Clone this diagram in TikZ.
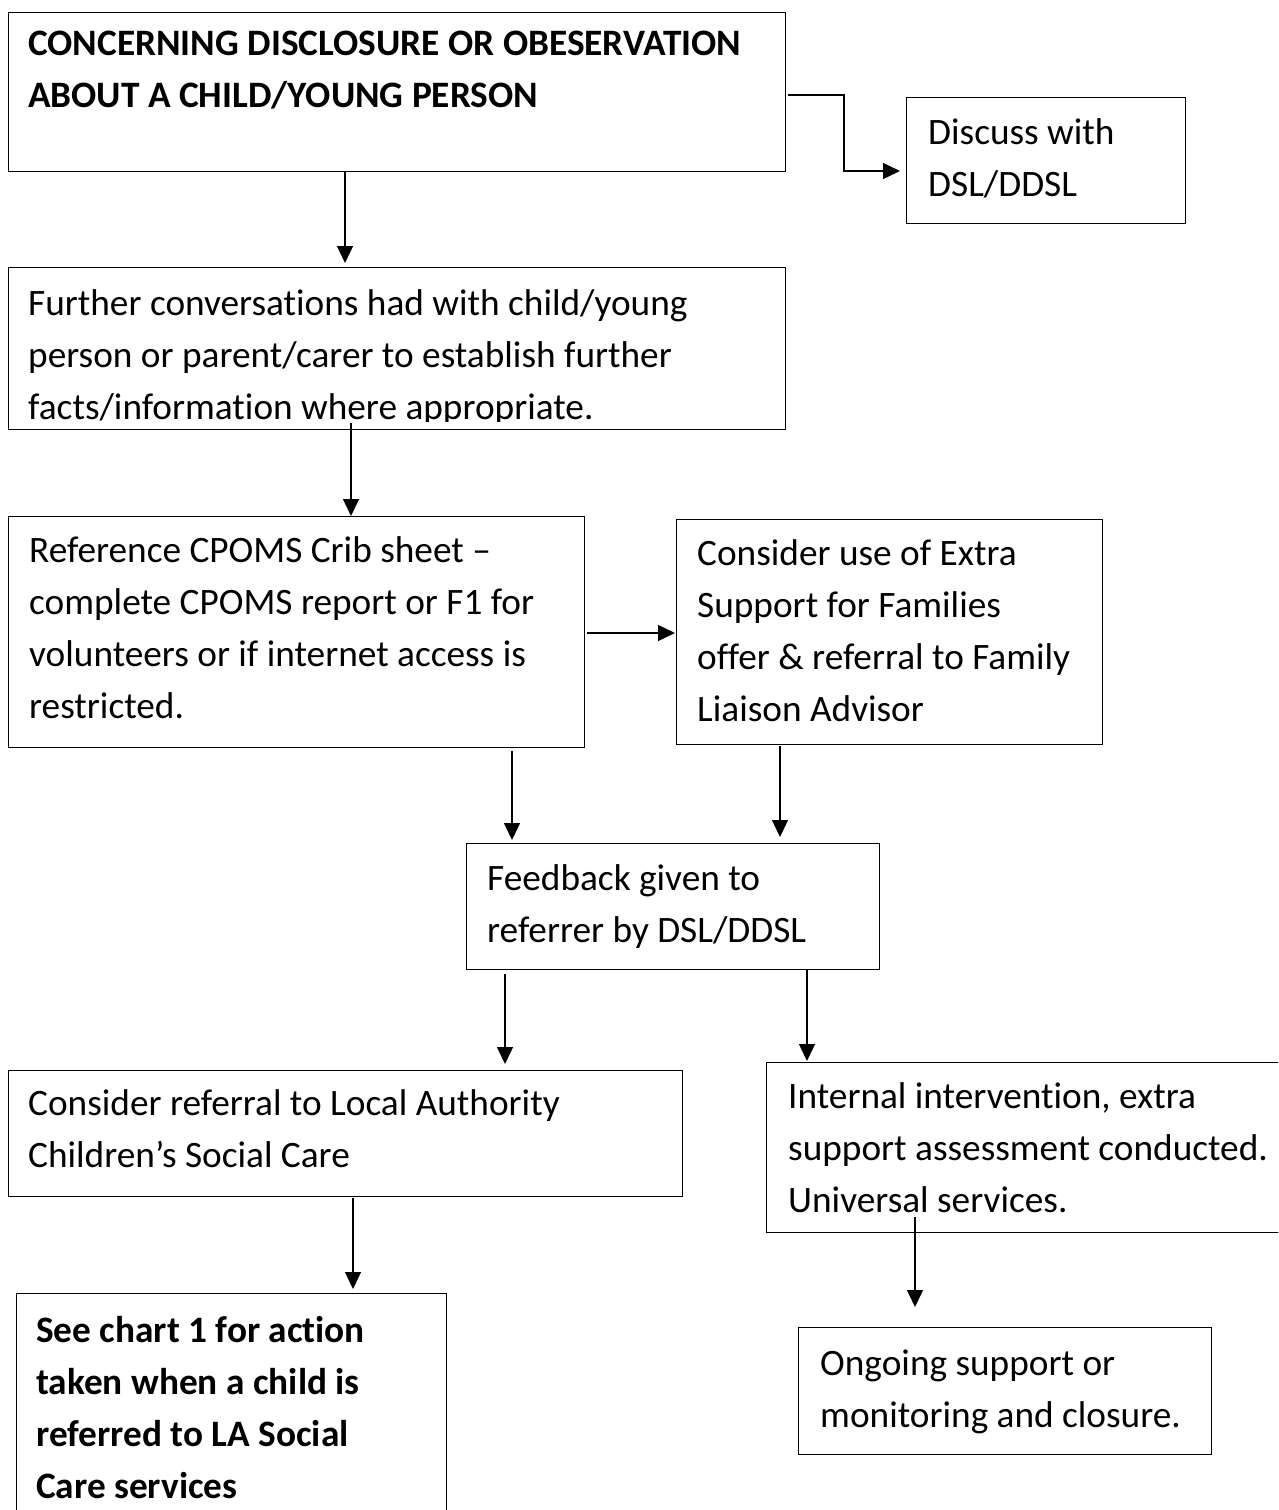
\documentclass[tikz,border=0pt]{standalone}
\usepackage{fontspec}
\setmainfont{Carlito}[Ligatures=NoCommon]
\usetikzlibrary{arrows.meta}
\begin{document}
\begin{tikzpicture}[x=1pt,y=-1pt,
  box/.style={draw, line width=1.3pt, inner sep=0pt, anchor=north west},
  txt/.style={anchor=north west, inner sep=0pt, align=left,
    font=\fontsize{37.3}{52}\selectfont},
  btxt/.style={txt, font=\fontsize{37.3}{52}\selectfont\bfseries},
  arr/.style={-{Triangle[length=17pt,width=16pt]}, line width=1.3pt}]
\clip (0,0) rectangle (1278,1510);
\fill[white] (0,0) rectangle (1278,1510);
% boxes
\node[box, minimum width=777pt, minimum height=159pt] (b1) at (8,12) {};
\node[box, minimum width=279pt, minimum height=126pt] (bd) at (906,97) {};
\node[box, minimum width=777pt, minimum height=162pt] (b2) at (8,267) {};
\node[box, minimum width=576pt, minimum height=231pt] (b3) at (8,516) {};
\node[box, minimum width=426pt, minimum height=225pt] (b4) at (676,519) {};
\node[box, minimum width=413pt, minimum height=126pt] (b5) at (466,843) {};
\node[box, minimum width=674pt, minimum height=126pt] (b6) at (8,1070) {};
\node[box, minimum width=540pt, minimum height=170pt] (b7) at (766,1062) {};
\node[box, minimum width=430pt, minimum height=240pt] (b8) at (16,1293) {};
\node[box, minimum width=413pt, minimum height=127pt] (b9) at (798,1327) {};
% texts (top = first baseline - 36.4)
\node[btxt] (t1) at (28,18.6) {\strut CONCERNING DISCLOSURE OR OBESERVATION\\\strut ABOUT A CHILD/YOUNG PERSON};
\node[txt] (td) at (928,107.6) {\strut Discuss with\\\strut DSL/DDSL};
\begin{scope}
\clip (0,267) rectangle (1278,421);
\node[txt] (t2) at (28,278.6) {\strut Further conversations had with child/young\\\strut person or parent/carer to establish further\\\strut facts/information where appropriate.};
\end{scope}
\node[txt] (t3) at (29,525.6) {\strut Reference CPOMS Crib sheet –\\\strut complete CPOMS report or F1 for\\\strut volunteers or if internet access is\\\strut restricted.};
\node[txt] (t4) at (697,528.6) {\strut Consider use of Extra\\\strut Support for Families\\\strut offer \& referral to Family\\\strut Liaison Advisor};
\node[txt] (t5) at (487,853.6) {\strut Feedback given to\\\strut referrer by DSL/DDSL};
\node[txt] (t6) at (28,1078.6) {\strut Consider referral to Local Authority\\\strut Children’s Social Care};
\node[txt] (t7) at (788,1071.6) {\strut Internal intervention, extra\\\strut support assessment conducted.\\\strut Universal services.};
\node[btxt] (t8) at (36,1305.6) {\strut See chart 1 for action\\\strut taken when a child is\\\strut referred to LA Social\\\strut Care services};
\node[txt] (t9) at (820,1338.6) {\strut Ongoing support or\\\strut monitoring and closure.};
% connector start points
\coordinate (s0) at (788,95);
\coordinate (c0) at (844,171);
\coordinate (s1) at (345,171);
\coordinate (s2) at (351,423);
\coordinate (s3) at (587,633);
\coordinate (s4) at (512,751);
\coordinate (s5) at (780,746);
\coordinate (s6) at (505,974);
\coordinate (s7) at (807,970);
\coordinate (s8) at (353,1198);
\coordinate (s9) at (915,1217);
% connectors
\draw[arr, shorten >=6pt] (s0) -| (c0) -- (c0 -| bd.west);
\draw[arr, shorten >=4pt] (s1) -- (s1 |- b2.north);
\draw[arr] (s2) -- (s2 |- b3.north);
\draw[arr, shorten >=1pt] (s3) -- (s3 -| b4.west);
\draw[arr, shorten >=3pt] (s4) -- (s4 |- b5.north);
\draw[arr, shorten >=6pt] (s5) -- (s5 |- b5.north);
\draw[arr, shorten >=6pt] (s6) -- (s6 |- b6.north);
\draw[arr, shorten >=1pt] (s7) -- (s7 |- b7.north);
\draw[arr, shorten >=4pt] (s8) -- (s8 |- b8.north);
\draw[arr, shorten >=20pt] (s9) -- (s9 |- b9.north);
\end{tikzpicture}
\end{document}
